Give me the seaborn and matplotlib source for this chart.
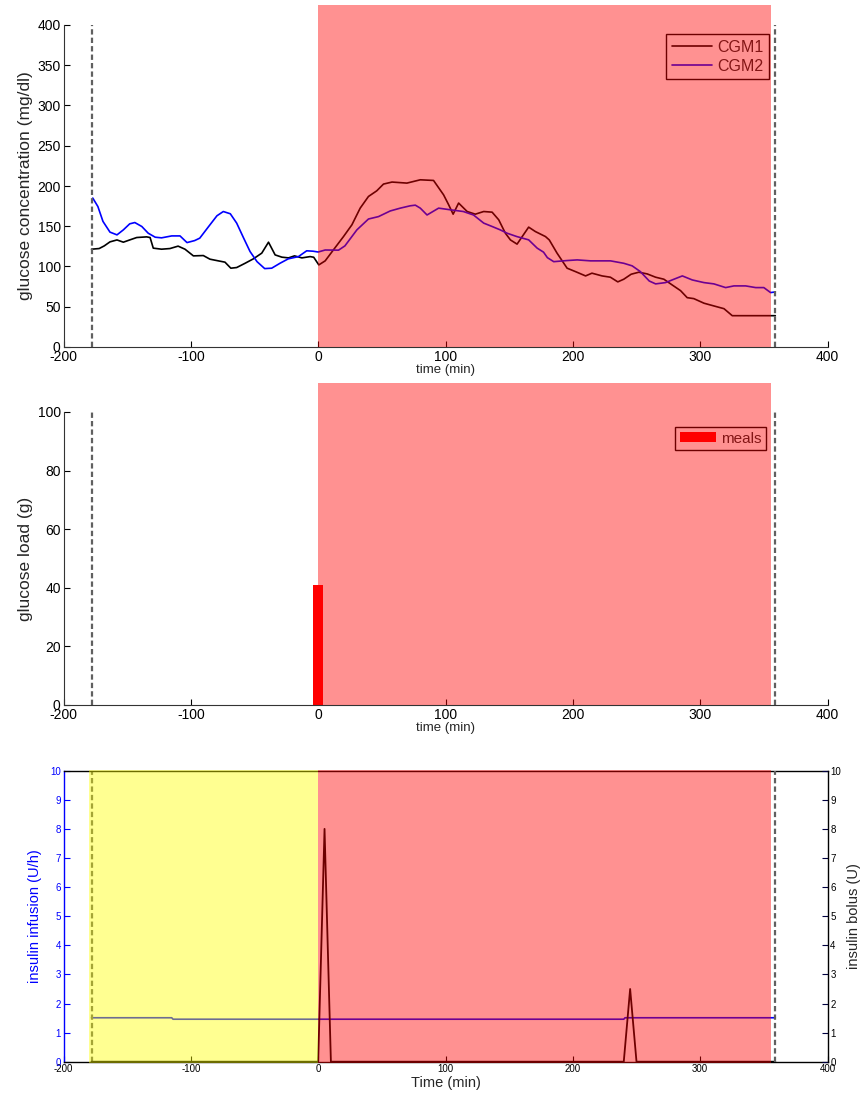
import numpy as np
import pandas as pd
import matplotlib
matplotlib.use("Agg")
import matplotlib.pyplot as plt
import seaborn as sns
from matplotlib.patches import Rectangle

sns.set_style("white")
plt.rcParams["font.family"] = ["Liberation Sans", "DejaVu Sans"]
plt.rcParams["axes.unicode_minus"] = False

# ---------------- data ----------------
cgm1_t = [-178, -172, -168, -163.5, -158, -153, -148, -142.5, -134.7, -132, -129.5, -123, -116.4,
          -110, -104.6, -98, -90.2, -85, -78.4, -73.2, -68.6, -64, -57.4, -50.9, -44.3, -39,
          -33.8, -28.5, -23.3, -18.6, -12.8, -6.3, -3.5, 0.5, 5.5, 12, 19.9, 26.5, 33, 39.5, 46,
          51.3, 58, 69.7, 80.2, 90.6, 98.5, 102.5, 106, 110.3, 117, 123.4, 130, 136.6, 141.8,
          147, 151, 156.2, 165.3, 170.6, 178.5, 181.5, 187.6, 195.5, 202, 210, 215, 223, 229.5,
          235.3, 240, 245.8, 251.8, 258.4, 265, 271.5, 278, 284.6, 289.8, 295, 303, 310.8,
          318.7, 325.2, 359]
cgm1_v = [121.5, 122.3, 125.6, 130.6, 133, 130.2, 133, 136, 136.8, 136, 122.8, 121.5, 122.3,
          125.3, 121.5, 113.2, 113.6, 109.1, 107, 105.4, 97.9, 98.7, 104, 109.5, 116.6, 130.2,
          114.4, 111.6, 110.7, 113.2, 110.7, 112.3, 111.5, 102, 107, 120.7, 137.2, 151.8, 172.5,
          187, 194, 202.4, 204.9, 203.6, 207.7, 206.9, 189, 176.6, 165, 178.8, 168.3, 165,
          168.3, 167.5, 158, 141.4, 133, 127.8, 148.9, 143.4, 137.2, 133, 116.6, 97.9, 93.7,
          88.3, 91.7, 88.3, 86.7, 80.9, 84.2, 90.4, 92.9, 90.8, 86.7, 84.2, 77.1, 70, 61.3,
          60.1, 54.4, 51, 47.6, 38.9, 38.9]

cgm2_t = [-177, -173, -169, -163.5, -158, -153, -148, -144, -138.5, -133.5, -128, -123, -115,
          -108.5, -103, -97, -93, -86, -79.5, -74.5, -69, -64, -58.5, -53.5, -48, -42, -36.5,
          -30, -23.5, -15.5, -9, -4, 0, 5.5, 16, 21, 30.4, 39.5, 47.4, 56.6, 64.5, 72.3, 76.3,
          80.2, 85.5, 94.6, 104, 114, 122, 130, 136.6, 143, 148.3, 156, 165.3, 172, 177, 180,
          185, 195.5, 203.4, 214, 229.6, 240, 246.6, 253, 260, 265, 272.8, 279.4, 286, 293.8,
          303, 310.8, 320, 326.5, 335.7, 343.6, 350, 355.3, 359]
cgm2_v = [185, 174.5, 156, 142.7, 139.3, 145.5, 153, 154.6, 149.7, 141.4, 136.4, 135.6, 138,
          138, 129.7, 132.2, 135.2, 149.7, 163, 168.3, 165.5, 153.9, 135.2, 118.6, 106, 97.4,
          97.9, 104, 109.5, 112.3, 119.5, 119, 118, 120.5, 120.3, 125.6, 145.5, 159, 162, 169,
          172.5, 175.4, 176.2, 172.5, 164, 172.5, 170.4, 168.3, 164, 153.9, 149.7, 145.5,
          141.4, 137.2, 133.1, 122.8, 117.8, 111, 106, 107.4, 108.2, 107, 107, 104, 100.8,
          93.7, 82, 78.4, 80, 84.2, 88.3, 83.3, 80, 78.4, 73.8, 75.9, 75.9, 73.8, 73.8, 67.6,
          68.4]

meal_t = [0]
meal_g = [41]

inf_t = [-178, -115, -114, 240, 241, 359]
inf_v = [1.51, 1.51, 1.46, 1.46, 1.51, 1.51]

bolus_t = [-178, 0, 5, 10, 240, 245, 250, 359]
bolus_v = [0, 0, 8, 0, 0, 2.5, 0, 0]

window = [-178, 359]       # dashed limits
pre_period = [-180, 0]     # yellow
post_period = [0, 356]     # red

xticks = [-200, -100, 0, 100, 200, 300, 400]

# ---------------- figure ----------------
fig = plt.figure(figsize=(8.63, 10.97), dpi=100)
W, H = 863, 1097
L, R = 63.5, 827.5

def axrect(top, bottom):
    return [L / W, 1 - bottom / H, (R - L) / W, (bottom - top) / H]

RED = "red"
ALPHA = 0.43
DASH = dict(color="#606060", lw=1.6, ls=(0, (2.4, 1.4)))
SPINE_C = "#333333"

def style_simple(ax):
    for s in ["top", "right"]:
        ax.spines[s].set_visible(False)
    for s in ["left", "bottom"]:
        ax.spines[s].set_color(SPINE_C)
        ax.spines[s].set_linewidth(0.8)
    ax.tick_params(direction="in", length=4, labelsize=10, pad=2,
                   bottom=True, left=True, colors="black")
    ax.set_xlim(-200, 400)
    ax.set_xticks(xticks)

# ---- Panel 1: CGM ----
ax1 = fig.add_axes(axrect(25, 347))
sns.lineplot(x=cgm1_t, y=cgm1_v, ax=ax1, color="black", lw=1.2, label="CGM1",
             estimator=None, sort=False, zorder=2)
sns.lineplot(x=cgm2_t, y=cgm2_v, ax=ax1, color="blue", lw=1.2, label="CGM2",
             estimator=None, sort=False, zorder=2)
for xv in window:
    ax1.plot([xv, xv], [0, 400], **DASH, zorder=2)
ax1.add_patch(Rectangle((post_period[0], 0), post_period[1] - post_period[0], 425,
                        facecolor=RED, alpha=ALPHA, edgecolor="none", zorder=3, clip_on=False))
style_simple(ax1)
ax1.set_ylim(0, 400)
ax1.set_yticks(range(0, 401, 50))
ax1.set_xlabel("time (min)", fontsize=9.5, labelpad=0)
ax1.set_ylabel("glucose concentration (mg/dl)", fontsize=12.5, labelpad=3)
leg1 = ax1.legend(loc="upper right", bbox_to_anchor=(769 / W, 1 - 34 / H),
                  bbox_transform=fig.transFigure, fontsize=11.5, frameon=True,
                  fancybox=False, edgecolor="black", framealpha=1, handlelength=2.5,
                  labelspacing=0.25, borderpad=0.35, handletextpad=0.35, borderaxespad=0)
leg1.get_frame().set_linewidth(1.0)
leg1.set_zorder(2.8)

# ---- Panel 2: meals ----
ax2 = fig.add_axes(axrect(412, 705))
ax2.bar(meal_t, meal_g, width=8, color="red", label="meals", zorder=2, linewidth=0)
for xv in window:
    ax2.plot([xv, xv], [0, 100], **DASH, zorder=2)
ax2.add_patch(Rectangle((post_period[0], 0), post_period[1] - post_period[0], 110,
                        facecolor=RED, alpha=ALPHA, edgecolor="none", zorder=3, clip_on=False))
style_simple(ax2)
ax2.set_ylim(0, 100)
ax2.set_yticks(range(0, 101, 20))
ax2.set_xlabel("time (min)", fontsize=9.5, labelpad=0)
ax2.set_ylabel("glucose load (g)", fontsize=12.5, labelpad=3)
leg2 = ax2.legend(loc="upper right", bbox_to_anchor=(766 / W, 1 - 427 / H),
                  bbox_transform=fig.transFigure, fontsize=11, frameon=True,
                  fancybox=False, edgecolor="black", framealpha=1, handlelength=2.4,
                  handleheight=0.6, borderpad=0.3, handletextpad=0.3, borderaxespad=0)
leg2.get_frame().set_linewidth(1.0)
leg2.set_zorder(2.8)

# ---- Panel 3: insulin ----
ax3 = fig.add_axes(axrect(770.7, 1061.7))
ax3b = ax3.twinx()
sns.lineplot(x=inf_t, y=inf_v, ax=ax3, color="blue", lw=1.2, estimator=None, sort=False,
             legend=False, zorder=2)
ax3.plot([window[0]] * 2, [0, 10], **DASH, zorder=2)
ax3.set_xlim(-200, 400)
ax3.set_ylim(0, 10)
ax3.set_xticks(xticks)
ax3.set_yticks(range(0, 11))
for s in ["top", "bottom"]:
    ax3.spines[s].set_color("black")
    ax3.spines[s].set_linewidth(1.0)
ax3.spines["left"].set_color("blue")
ax3.spines["left"].set_linewidth(1.0)
ax3.spines["right"].set_visible(False)
ax3.tick_params(axis="x", direction="in", length=4, labelsize=7, pad=2, bottom=True,
                colors="black")
ax3.tick_params(axis="y", direction="in", length=4, labelsize=7, pad=2, left=True,
                colors="blue")
ax3.set_xlabel("Time (min)", fontsize=10.5, labelpad=1)
ax3.set_ylabel("insulin infusion (U/h)", fontsize=10.5, color="blue", labelpad=6)

sns.lineplot(x=bolus_t, y=bolus_v, ax=ax3b, color="black", lw=1.3, estimator=None,
             sort=False, legend=False, zorder=2)
ax3b.plot([window[1]] * 2, [0, 10], **DASH, zorder=2)
ax3b.add_patch(Rectangle((pre_period[0], -0.04), pre_period[1] - pre_period[0], 10.08,
                         facecolor="yellow", alpha=ALPHA, edgecolor="none", zorder=3,
                         clip_on=False))
ax3b.add_patch(Rectangle((post_period[0], -0.04), post_period[1] - post_period[0], 10.08,
                         facecolor=RED, alpha=ALPHA, edgecolor="none", zorder=3,
                         clip_on=False))
ax3b.set_xlim(-200, 400)
ax3b.set_ylim(0, 10)
ax3b.set_yticks(range(0, 11))
for s in ["top", "bottom", "left"]:
    ax3b.spines[s].set_visible(False)
ax3b.spines["right"].set_color("black")
ax3b.spines["right"].set_linewidth(1.0)
ax3b.tick_params(axis="y", direction="in", length=4, labelsize=7, pad=2, right=True,
                 colors="#000040", labelcolor="black")
ax3b.set_ylabel("insulin bolus (U)", fontsize=10.5, labelpad=4)

fig.savefig("out.png", dpi=100)
